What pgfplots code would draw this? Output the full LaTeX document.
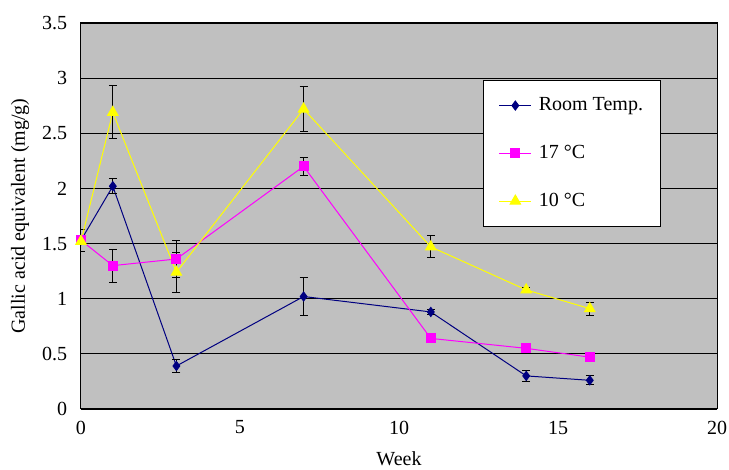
\documentclass[border=0pt]{standalone}
\usepackage{fontspec}
\setmainfont{Liberation Serif}
\usepackage{pgfplots}
\pgfplotsset{compat=1.18}
\definecolor{plotbg}{RGB}{192,192,192}
\definecolor{rt}{RGB}{0,0,128}
\definecolor{cA}{RGB}{255,0,255}
\definecolor{cB}{RGB}{255,255,0}
\pgfplotstableread{
x y e
0 1.53 0.10
1 2.02 0.07
3 0.39 0.06
7 1.02 0.17
11 0.88 0.02
14 0.30 0.05
16 0.26 0.04
}\rtdata
\pgfplotstableread{
x y e
0 1.53 0.0
1 1.30 0.15
3 1.36 0.17
7 2.20 0.08
11 0.64 0.0
14 0.55 0.03
16 0.47 0.02
}\adata
\pgfplotstableread{
x y e
0 1.52 0.0
1 2.69 0.24
3 1.24 0.18
7 2.72 0.20
11 1.47 0.10
14 1.08 0.02
16 0.91 0.06
}\bdata
\begin{document}
\fontsize{20}{24}\selectfont
\begin{tikzpicture}
\begin{axis}[
  scale only axis, width=636pt, height=386pt,
  xmin=0, xmax=20, ymin=0, ymax=3.5,
  xtick={0,5,10,15,20}, ytick={0,0.5,1,1.5,2,2.5,3,3.5},
  axis background/.style={fill=plotbg},
  ymajorgrids, grid style={black, line width=0.8pt},
  major tick length=0pt,
  axis line style={black, line width=1pt},
  /pgf/number format/assume math mode=true,
  ticklabel style={font=\fontsize{20}{24}\selectfont},
  xticklabel style={yshift=-5pt},
  yticklabel style={xshift=-7pt},
  xlabel={Week}, ylabel={Gallic acid equivalent (mg/g)},
  every axis x label/.style={at={(axis description cs:0.5,-0.128)}, anchor=center, font=\fontsize{20}{24}\selectfont},
  every axis y label/.style={at={(axis description cs:-0.0959,0.5)}, rotate=90, anchor=center, font=\fontsize{20}{24}\selectfont},
  legend style={at={(axis description cs:0.632,0.852)}, anchor=north west, fill=white, draw=black, line width=0.8pt,
    inner xsep=15.5pt, inner ysep=15pt, row sep=27.5pt, column sep=5pt, font=\fontsize{20}{24}\selectfont},
  legend cell align=left,
  legend image code/.code={\draw[mark repeat=2, mark phase=2] plot coordinates {(0pt,0pt) (16pt,0pt) (32pt,0pt)};},
  error bars/y dir=both, error bars/y explicit,
  error bars/error bar style={black, line width=1pt},
  error bars/error mark options={black, mark size=4pt, line width=1pt, rotate=90},
]
\addplot[rt, line width=1pt, mark=diamond*, mark size=4.5pt, mark options={fill=rt, draw=rt}] table[x=x, y=y, y error=e] {\rtdata};
\addlegendentry{Room Temp.}
\addplot[cA, line width=1pt, mark=square*, mark size=4.5pt, mark options={fill=cA, draw=cA}] table[x=x, y=y, y error=e] {\adata};
\addlegendentry{17 °C}
\addplot[cB, line width=1pt, mark=triangle*, mark size=6pt, mark options={fill=cB, draw=cB}] table[x=x, y=y, y error=e] {\bdata};
\addlegendentry{10 °C}
\end{axis}
\pgfresetboundingbox
\useasboundingbox (-81pt,-61pt) rectangle (648pt,409pt);
\end{tikzpicture}
\end{document}
